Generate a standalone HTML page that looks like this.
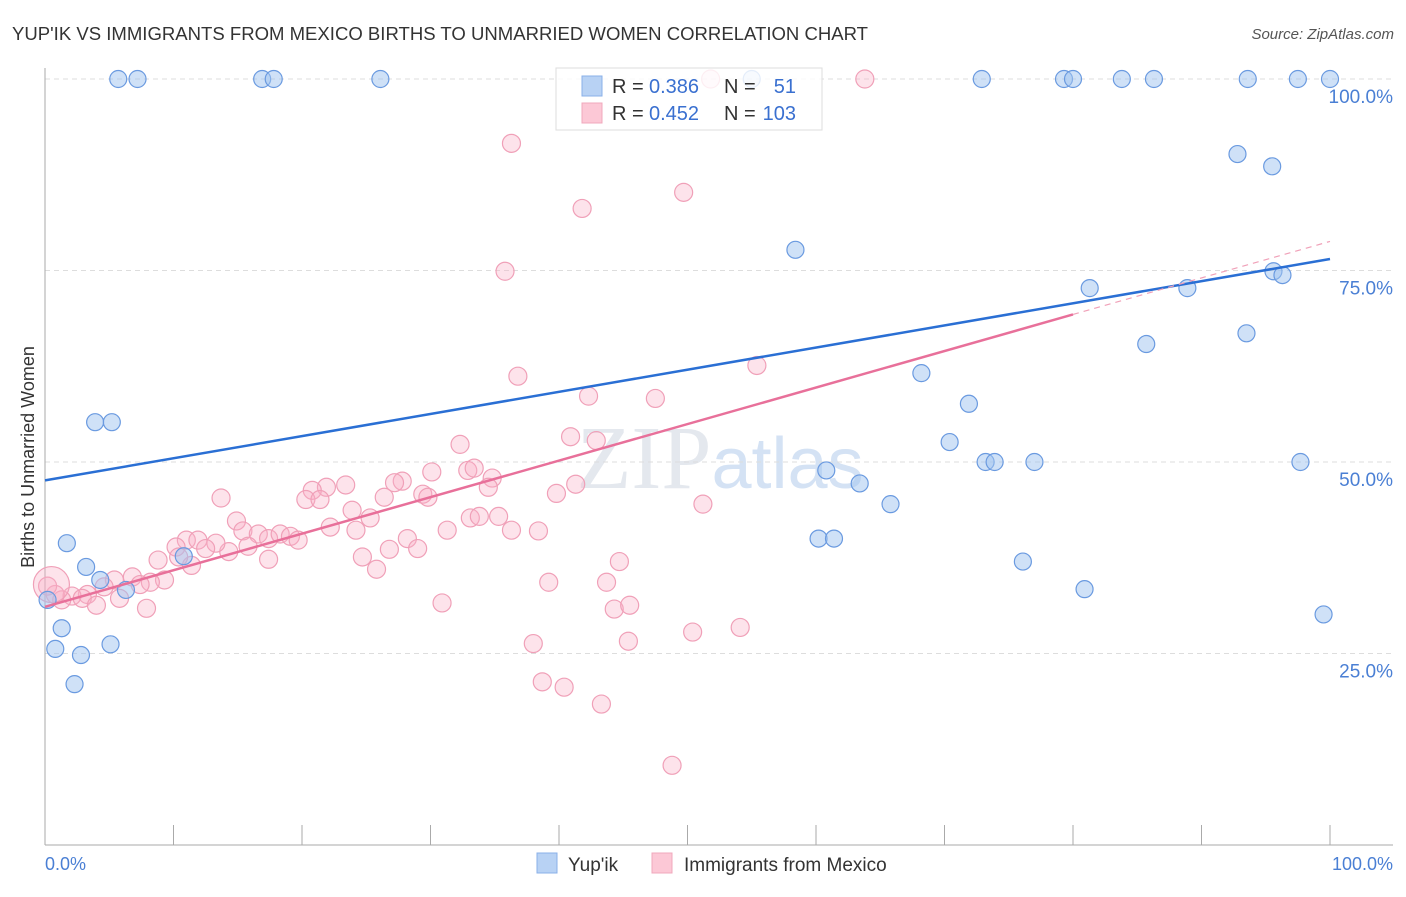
<!DOCTYPE html>
<html><head><meta charset="utf-8"><style>
body{margin:0;background:#fff;font-family:"Liberation Sans",sans-serif}
</style></head><body>
<svg width="1406" height="892" xmlns="http://www.w3.org/2000/svg" font-family="Liberation Sans, sans-serif">
<text x="12" y="40" font-size="18" fill="#333" textLength="856" lengthAdjust="spacingAndGlyphs">YUP'IK VS IMMIGRANTS FROM MEXICO BIRTHS TO UNMARRIED WOMEN CORRELATION CHART</text>
<text x="1394" y="39" font-size="15" fill="#555" font-style="italic" text-anchor="end">Source: ZipAtlas.com</text>
<text x="720" y="488" font-size="90" fill="#e4e8ee" text-anchor="middle" font-family="Liberation Serif, serif">ZIP<tspan fill="#d4e2f4" font-family="Liberation Sans, sans-serif" font-size="72">atlas</tspan></text>
<g id="grid"></g>
<g id="axes"></g>
<g id="pts"></g>
<g id="lines"></g>
<text transform="translate(34,457) rotate(-90)" font-size="18" fill="#333" text-anchor="middle">Births to Unmarried Women</text>
<text x="45" y="870" font-size="18" fill="#4a7fd4">0.0%</text>
<text x="1393" y="870" font-size="18" fill="#4a7fd4" text-anchor="end">100.0%</text>
<g>
<rect x="556" y="68" width="266" height="62" fill="rgba(255,255,255,0.82)" stroke="#ddd"/>
<rect x="582" y="76" width="20" height="20" fill="#b8d2f4" stroke="#8ab0e8"/>
<rect x="582" y="103" width="20" height="20" fill="#fcc8d6" stroke="#f0a8bc"/>
<text x="612" y="93" font-size="20" fill="#333">R =</text>
<text x="649" y="93" font-size="20" fill="#3a70d0">0.386</text>
<text x="724" y="93" font-size="20" fill="#333">N =</text>
<text x="796" y="93" font-size="20" fill="#3a70d0" text-anchor="end">51</text>
<text x="612" y="120" font-size="20" fill="#333">R =</text>
<text x="649" y="120" font-size="20" fill="#3a70d0">0.452</text>
<text x="724" y="120" font-size="20" fill="#333">N =</text>
<text x="796" y="120" font-size="20" fill="#3a70d0" text-anchor="end">103</text>
</g>
<g>
<rect x="537" y="853" width="20" height="20" fill="#b8d2f4" stroke="#8ab0e8"/>
<text x="568" y="871" font-size="19" fill="#333">Yup'ik</text>
<rect x="652" y="853" width="20" height="20" fill="#fcc8d6" stroke="#f0a8bc"/>
<text x="684" y="871" font-size="19" fill="#333">Immigrants from Mexico</text>
</g>
</svg>
<script>
const yTicks=[25,50,75,100];
const yTickLabels=["25.0%","50.0%","75.0%","100.0%"];
const blueX=[5.7,7.2,16.9,17.8,26.1,72.9,79.3,80.0,83.8,86.3,93.6,97.5,100,55.0,92.8,95.5,58.4,81.3,88.9,95.6,96.3,93.5,85.7,68.2,71.9,70.4,73.2,73.9,77.0,97.7,60.8,63.4,65.8,60.2,61.4,76.1,80.9,99.5,3.9,5.2,1.7,3.2,4.3,6.3,10.8,0.2,1.3,0.8,2.8,5.1,2.3];
const blueY=[100,100,100,100,100,100,100,100,100,100,100,100,100,100,90.2,88.6,77.7,72.7,72.7,74.9,74.4,66.8,65.4,61.6,57.6,52.6,50,50,50,50,48.9,47.2,44.5,40,40,37,33.4,30.1,55.2,55.2,39.4,36.3,34.6,33.3,37.7,32,28.3,25.6,24.8,26.2,21];
const pinkX=[36.3,41.8,49.7,35.8,63.8,51.8,36.8,55.4,42.3,47.5,40.9,42.9,32.3,30.1,32.9,33.4,34.8,34.5,41.3,39.8,27.8,27.2,26.4,29.4,29.8,23.4,21.9,20.8,20.3,21.4,23.9,22.2,25.3,24.2,31.3,33.1,35.3,33.8,36.3,38.4,51.2,13.7,14.9,15.4,16.6,17.4,18.3,19.1,19.7,28.2,29.0,26.8,24.7,25.8,15.8,17.4,14.3,11.0,11.9,13.3,12.5,10.2,11.4,8.8,10.4,9.3,8.2,6.8,7.4,5.4,4.6,3.3,2.1,2.9,4.0,1.3,0.8,0.2,5.8,7.9,44.7,39.2,43.7,30.9,44.3,45.5,50.4,54.1,38.0,45.4,38.7,40.4,43.3,48.8,0.5];
const pinkY=[91.6,83.1,85.2,74.9,100,100,61.2,62.6,58.6,58.3,53.3,52.8,52.3,48.7,48.9,49.2,47.9,46.7,47.1,45.9,47.5,47.3,45.4,45.8,45.4,47.0,46.7,46.3,45.1,45.1,43.7,41.5,42.7,41.1,41.1,42.7,42.9,42.9,41.1,41.0,44.5,45.3,42.3,41.0,40.6,40.0,40.6,40.3,39.8,40.0,38.7,38.6,37.6,36.0,39.0,37.3,38.3,39.8,39.8,39.4,38.7,38.9,36.5,37.2,37.6,34.6,34.3,35.0,34.0,34.6,33.7,32.7,32.5,32.2,31.3,32.0,32.7,33.8,32.2,30.9,37.0,34.3,34.3,31.6,30.8,31.3,27.8,28.4,26.3,26.6,21.3,20.6,18.4,10.4,34.0];
const blueFit=[47.6,76.5];
const pinkFit=[31.1,78.8];
const pinkSolidEnd=80;
const NS="http://www.w3.org/2000/svg";
const X=v=>45+v*12.85, Y=v=>845-v*7.66;
function mk(t,a,p){const e=document.createElementNS(NS,t);for(const k in a)e.setAttribute(k,a[k]);document.getElementById(p).appendChild(e);return e;}
yTicks.forEach((t,i)=>{
 const l=mk('line',{x1:45,x2:1393,y1:Y(t),y2:Y(t),stroke:'#ddd','stroke-dasharray':'5,4'},'grid');
 
 
 const tx=mk('text',{x:1393,y:Y(t)+24,'font-size':19,fill:'#4a7fd4','text-anchor':'end'},'grid');
 tx.textContent=yTickLabels[i];
 
 
});
mk('line',{x1:45,x2:45,y1:68,y2:845,stroke:'#aaa'},'axes');
mk('line',{x1:45,x2:1393,y1:845,y2:845,stroke:'#aaa'},'axes');
for(let i=1;i<=10;i++){const t=mk('line',{x1:X(i*10),x2:X(i*10),y1:825,y2:845,stroke:'#aaa'},'axes');
 
 }
pinkX.forEach((x,i)=>{const c=mk('circle',{cx:X(x),cy:Y(pinkY[i]),r:i==pinkX.length-1?18:9,fill:'rgba(248,176,198,0.35)',stroke:'#f0a0b8','stroke-width':1.2},'pts');
 
 });
blueX.forEach((x,i)=>{const c=mk('circle',{cx:X(x),cy:Y(blueY[i]),r:8.5,fill:'rgba(160,196,240,0.5)',stroke:'#6a9ae0','stroke-width':1.2},'pts');
 
 });
const pf=x=>pinkFit[0]+(pinkFit[1]-pinkFit[0])*x/100;
const bl=mk('line',{x1:X(0),y1:Y(blueFit[0]),x2:X(100),y2:Y(blueFit[1]),stroke:'#2a6fd4','stroke-width':2.5},'lines');


const pl=mk('line',{x1:X(0),y1:Y(pf(0)),x2:X(pinkSolidEnd),y2:Y(pf(pinkSolidEnd)),stroke:'#e8709a','stroke-width':2.5},'lines');


const pd=mk('line',{x1:X(pinkSolidEnd),y1:Y(pf(pinkSolidEnd)),x2:X(100),y2:Y(pf(100)),stroke:'#f0a0b8','stroke-width':1.2,'stroke-dasharray':'6,5'},'lines');


</script>
</body></html>
